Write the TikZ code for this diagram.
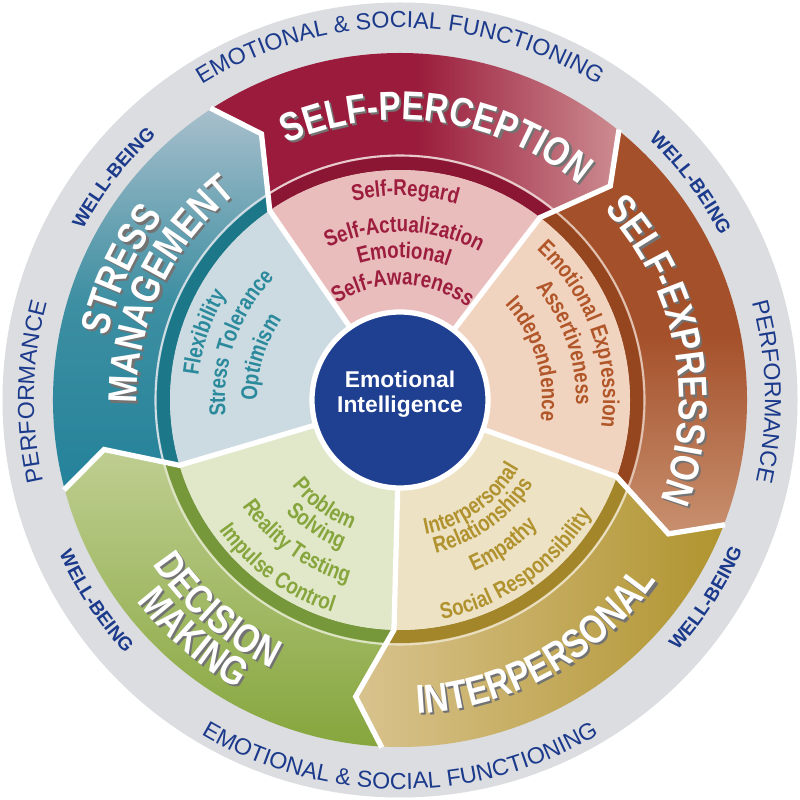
\documentclass[tikz,border=0pt]{standalone}
\usepackage{fontspec}
\setmainfont{Liberation Sans}
\newfontfamily\ringfont{Liberation Sans}
\newfontfamily\condfont[FakeStretch=0.82]{Liberation Sans}
\usetikzlibrary{decorations.text}

\definecolor{ringgray}{HTML}{DCDDE0}
\definecolor{ringblue}{HTML}{1B3A8C}
\definecolor{eiblue}{HTML}{1F3F91}
\definecolor{spdark}{HTML}{9A1B3B}
\definecolor{splight}{HTML}{CC8C90}
\definecolor{spring}{HTML}{8A1633}
\definecolor{sppale}{HTML}{E9BDBC}
\definecolor{sptext}{HTML}{9C1D3E}
\definecolor{sedark}{HTML}{A4502A}
\definecolor{selight}{HTML}{C8906F}
\definecolor{sering}{HTML}{96461F}
\definecolor{sepale}{HTML}{F1D4C0}
\definecolor{setext}{HTML}{B15629}
\definecolor{ipdark}{HTML}{B0942F}
\definecolor{iplight}{HTML}{D9C38E}
\definecolor{ipring}{HTML}{A3852A}
\definecolor{ippale}{HTML}{EEE2C5}
\definecolor{iptext}{HTML}{B0922F}
\definecolor{dmdark}{HTML}{86A63D}
\definecolor{dmlight}{HTML}{BFCE91}
\definecolor{dmring}{HTML}{76973A}
\definecolor{dmpale}{HTML}{E1E8CA}
\definecolor{dmtext}{HTML}{86A53C}
\definecolor{smdark}{HTML}{23829A}
\definecolor{smmid}{HTML}{3E8FA2}
\definecolor{smlight}{HTML}{A8BFCC}
\definecolor{smring}{HTML}{1C7888}
\definecolor{smpale}{HTML}{CCDAE2}
\definecolor{smtext}{HTML}{2A8A9C}

\newcommand\ringtxt{\ringfont\fontsize{6.6}{7.5}\selectfont\color{ringblue}}
\newcommand\wbtxt{\bfseries\fontsize{5.4}{6}\selectfont\color{ringblue}}
\newcommand\titletxt{\condfont\bfseries\fontsize{11.5}{13}\selectfont\color{white}}
\newcommand\titleshade{\condfont\bfseries\fontsize{11.5}{13}\selectfont\color{black!55}}
\newcommand\innertxt{\condfont\bfseries\fontsize{6.5}{7.5}\selectfont}

\begin{document}
\begin{tikzpicture}[
    arctext/.style={decorate, decoration={text along path, text align=center, text={#1}}},
    bandtitle/.style={decorate, decoration={text along path, text align=center, text={|\titletxt|#1}}},
    bandshadow/.style={decorate, decoration={text along path, text align=center, text={|\titleshade|#1}}, shift={(0.022,-0.022)}},
    sep/.style={draw=white, line width=1.5pt}]
    \useasboundingbox (-4,-4) rectangle (4,4);
    % Outer ring
    \fill[ringgray] (0,0) circle (3.975);
    % Self-Perception band
    \shade[left color=spdark, right color=splight, middle color=spdark] (52.5:2.3) arc[start angle=52.5, end angle=124.5, radius=2.3] -- (117.5:3) -- (123:3.47) arc[start angle=123, end angle=51, radius=3.47] -- (45.5:3) -- cycle;
    % Self-Expression band
    \shade[top color=sedark, bottom color=selight, middle color=sedark] (-19.5:2.3) arc[start angle=-19.5, end angle=52.5, radius=2.3] -- (45.5:3) -- (51:3.47) arc[start angle=51, end angle=-21, radius=3.47] -- (-26.5:3) -- cycle;
    % Interpersonal band
    \shade[left color=iplight, right color=ipdark] (-91.5:2.3) arc[start angle=-91.5, end angle=-19.5, radius=2.3] -- (-26.5:3) -- (-21:3.47) arc[start angle=-21, end angle=-93, radius=3.47] -- (-98.5:3) -- cycle;
    % Decision Making band
    \shade[top color=dmlight, bottom color=dmdark] (-163.5:2.3) arc[start angle=-163.5, end angle=-91.5, radius=2.3] -- (-98.5:3) -- (-93:3.47) arc[start angle=-93, end angle=-165, radius=3.47] -- (-170.5:3) -- cycle;
    % Stress Management band
    \shade[top color=smlight, bottom color=smdark, middle color=smmid] (124.5:2.3) arc[start angle=124.5, end angle=196.5, radius=2.3] -- (189.5:3) -- (195:3.47) arc[start angle=195, end angle=123, radius=3.47] -- (117.5:3) -- cycle;
    % Dark rims
    \fill[spring] (52.5:2.3) arc[start angle=52.5, end angle=124.5, radius=2.3] -- (123.2:2.43) arc[start angle=123.2, end angle=51.2, radius=2.43] -- cycle;
    \fill[sering] (-19.5:2.3) arc[start angle=-19.5, end angle=52.5, radius=2.3] -- (51.2:2.43) arc[start angle=51.2, end angle=-20.8, radius=2.43] -- cycle;
    \fill[ipring] (-91.5:2.3) arc[start angle=-91.5, end angle=-19.5, radius=2.3] -- (-20.8:2.43) arc[start angle=-20.8, end angle=-92.8, radius=2.43] -- cycle;
    \fill[dmring] (-163.5:2.3) arc[start angle=-163.5, end angle=-91.5, radius=2.3] -- (-92.8:2.43) arc[start angle=-92.8, end angle=-164.8, radius=2.43] -- cycle;
    \fill[smring] (124.5:2.3) arc[start angle=124.5, end angle=196.5, radius=2.3] -- (195.2:2.43) arc[start angle=195.2, end angle=123.2, radius=2.43] -- cycle;
    \draw[white!55!splight, line width=0.6pt] (123.1:2.445) arc[start angle=123.1, end angle=51.1, radius=2.445];
    \draw[white!45!selight, line width=0.6pt] (51.1:2.445) arc[start angle=51.1, end angle=-20.9, radius=2.445];
    \draw[white!45!iplight, line width=0.6pt] (-20.9:2.445) arc[start angle=-20.9, end angle=-92.9, radius=2.445];
    \draw[white!45!dmlight, line width=0.6pt] (-92.9:2.445) arc[start angle=-92.9, end angle=-164.9, radius=2.445];
    \draw[white!45!smlight, line width=0.6pt] (195.1:2.445) arc[start angle=195.1, end angle=123.1, radius=2.445];
    % Pale inner sectors
    \fill[sppale] (0,0) -- (52.5:2.3) arc[start angle=52.5, end angle=124.5, radius=2.3] -- cycle;
    \fill[sepale] (0,0) -- (-19.5:2.3) arc[start angle=-19.5, end angle=52.5, radius=2.3] -- cycle;
    \fill[ippale] (0,0) -- (-91.5:2.3) arc[start angle=-91.5, end angle=-19.5, radius=2.3] -- cycle;
    \fill[dmpale] (0,0) -- (-163.5:2.3) arc[start angle=-163.5, end angle=-91.5, radius=2.3] -- cycle;
    \fill[smpale] (0,0) -- (124.5:2.3) arc[start angle=124.5, end angle=196.5, radius=2.3] -- cycle;
    % White separators
    \draw[sep] (124.5:0.88) -- (124.5:2.3) -- (117.5:3) -- (123:3.48);
    \draw[sep] (52.5:0.88) -- (52.5:2.3) -- (45.5:3) -- (51:3.48);
    \draw[sep] (-19.5:0.88) -- (-19.5:2.3) -- (-26.5:3) -- (-21:3.48);
    \draw[sep] (-91.5:0.88) -- (-91.5:2.3) -- (-98.5:3) -- (-93:3.48);
    \draw[sep] (196.5:0.88) -- (196.5:2.3) -- (189.5:3) -- (195:3.48);
    % Centre
    \node[circle, fill=eiblue, draw=white, line width=1.5pt, minimum size=1.76cm, inner sep=0pt] (ei) at (0,0) {};
    \node[text=white, align=center, font=\bfseries\fontsize{6.5}{7.1}\selectfont] (eilabel) at (0,0.055) {Emotional\\Intelligence};
    % Ring texts
    \path[arctext={|\ringtxt|EMOTIONAL {\&} SOCIAL FUNCTIONING}] (170:3.72) arc[start angle=170, end angle=10, radius=3.72];
    \path[arctext={|\ringtxt|EMOTIONAL {\&} SOCIAL FUNCTIONING}] (190:3.89) arc[start angle=190, end angle=350, radius=3.89];
    \path[arctext={|\ringtxt|PERFORMANCE}] (238.7:3.66) arc[start angle=238.7, end angle=118.7, radius=3.66];
    \path[arctext={|\ringtxt|PERFORMANCE}] (61.3:3.65) arc[start angle=61.3, end angle=-58.7, radius=3.65];
    \path[arctext={|\wbtxt|WELL-BEING}] (182.2:3.6) arc[start angle=182.2, end angle=102.2, radius=3.6];
    \path[arctext={|\wbtxt|WELL-BEING}] (76.7:3.6) arc[start angle=76.7, end angle=-3.3, radius=3.6];
    \path[arctext={|\wbtxt|WELL-BEING}] (173.5:3.74) arc[start angle=173.5, end angle=253.5, radius=3.74];
    \path[arctext={|\wbtxt|WELL-BEING}] (-72.9:3.74) arc[start angle=-72.9, end angle=7.1, radius=3.74];
    % Band titles (shadow first)
    \path[bandshadow={SELF-PERCEPTION}] (142:2.8) arc[start angle=142, end angle=22, radius=2.8];
    \path[bandtitle={SELF-PERCEPTION}] (142:2.8) arc[start angle=142, end angle=22, radius=2.8];
    \path[bandshadow={SELF-EXPRESSION}] (71:2.79) arc[start angle=71, end angle=-49, radius=2.79];
    \path[bandtitle={SELF-EXPRESSION}] (71:2.79) arc[start angle=71, end angle=-49, radius=2.79];
    \path[bandshadow={STRESS}] (215:2.99) arc[start angle=215, end angle=95, radius=2.99];
    \path[bandtitle={STRESS}] (215:2.99) arc[start angle=215, end angle=95, radius=2.99];
    \path[bandshadow={MANAGEMENT}] (214.6:2.63) arc[start angle=214.6, end angle=94.6, radius=2.63];
    \path[bandtitle={MANAGEMENT}] (214.6:2.63) arc[start angle=214.6, end angle=94.6, radius=2.63];
    \path[bandshadow={DECISION}] (169:2.97) arc[start angle=169, end angle=289, radius=2.97];
    \path[bandtitle={DECISION}] (169:2.97) arc[start angle=169, end angle=289, radius=2.97];
    \path[bandshadow={MAKING}] (169:3.31) arc[start angle=169, end angle=289, radius=3.31];
    \path[bandtitle={MAKING}] (169:3.31) arc[start angle=169, end angle=289, radius=3.31];
    \path[bandshadow={INTERPERSONAL}] (-121:3.14) arc[start angle=-121, end angle=-1, radius=3.14];
    \path[bandtitle={INTERPERSONAL}] (-121:3.14) arc[start angle=-121, end angle=-1, radius=3.14];
    % Self-Perception items
    \path[arctext={|\innertxt\color{sptext}|Self-Regard}] (148.5:2.04) arc[start angle=148.5, end angle=28.5, radius=2.04];
    \path[arctext={|\innertxt\color{sptext}|Self-Actualization}] (148.5:1.68) arc[start angle=148.5, end angle=28.5, radius=1.68];
    \path[arctext={|\innertxt\color{sptext}|Emotional}] (148.5:1.42) arc[start angle=148.5, end angle=28.5, radius=1.42];
    \path[arctext={|\innertxt\color{sptext}|Self-Awareness}] (148.5:1.15) arc[start angle=148.5, end angle=28.5, radius=1.15];
    % Self-Expression items
    \path[arctext={|\innertxt\color{setext}|Emotional Expression}] (80:2.03) arc[start angle=80, end angle=-40, radius=2.03];
    \path[arctext={|\innertxt\color{setext}|Assertiveness}] (79:1.76) arc[start angle=79, end angle=-41, radius=1.76];
    \path[arctext={|\innertxt\color{setext}|Independence}] (77:1.42) arc[start angle=77, end angle=-43, radius=1.42];
    % Stress Management items
    \path[arctext={|\innertxt\color{smtext}|Flexibility}] (221:2.03) arc[start angle=221, end angle=101, radius=2.03];
    \path[arctext={|\innertxt\color{smtext}|Stress Tolerance}] (220.5:1.75) arc[start angle=220.5, end angle=100.5, radius=1.75];
    \path[arctext={|\innertxt\color{smtext}|Optimism}] (223:1.43) arc[start angle=223, end angle=103, radius=1.43];
    % Decision Making items
    \path[arctext={|\innertxt\color{dmtext}|Problem}] (174:1.38) arc[start angle=174, end angle=294, radius=1.38];
    \path[arctext={|\innertxt\color{dmtext}|Solving}] (176.5:1.6) arc[start angle=176.5, end angle=296.5, radius=1.6];
    \path[arctext={|\innertxt\color{dmtext}|Reality Testing}] (174:1.9) arc[start angle=174, end angle=294, radius=1.9];
    \path[arctext={|\innertxt\color{dmtext}|Impulse Control}] (174:2.23) arc[start angle=174, end angle=294, radius=2.23];
    % Interpersonal items
    \path[arctext={|\innertxt\color{iptext}|Interpersonal}] (-114.5:1.37) arc[start angle=-114.5, end angle=5.5, radius=1.37];
    \path[arctext={|\innertxt\color{iptext}|Relationships}] (-114.5:1.57) arc[start angle=-114.5, end angle=5.5, radius=1.57];
    \path[arctext={|\innertxt\color{iptext}|Empathy}] (-114.6:1.87) arc[start angle=-114.6, end angle=5.4, radius=1.87];
    \path[arctext={|\innertxt\color{iptext}|Social Responsibility}] (-115:2.23) arc[start angle=-115, end angle=5, radius=2.23];
\end{tikzpicture}
\end{document}
